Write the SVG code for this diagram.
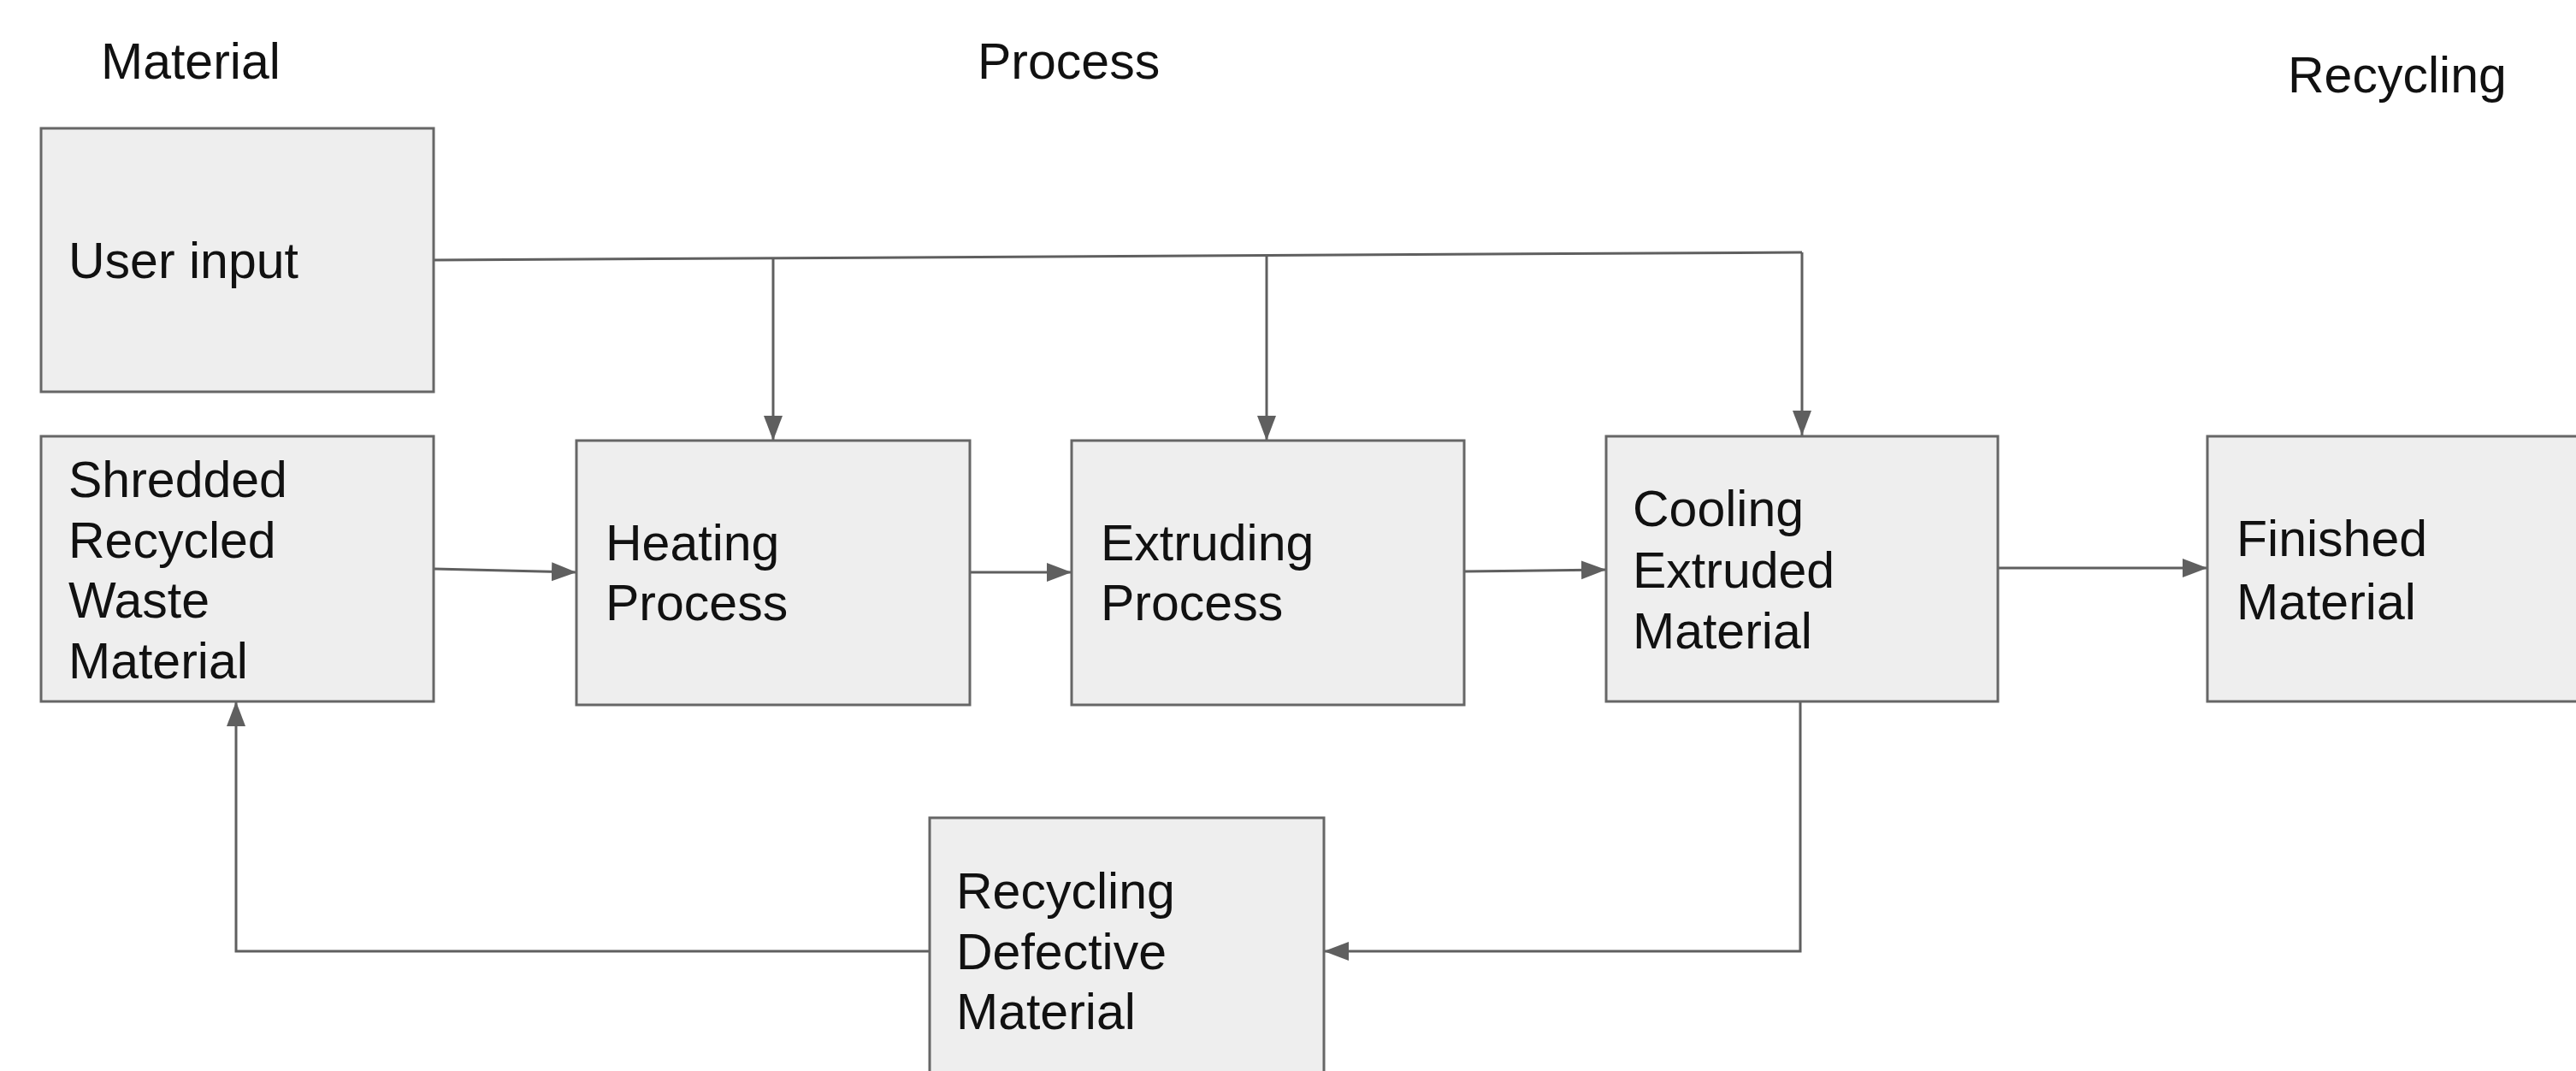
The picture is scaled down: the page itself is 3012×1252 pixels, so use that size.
<svg xmlns="http://www.w3.org/2000/svg" width="3012" height="1252" viewBox="0 0 3012 1252">
  <style>
    .box { fill: #eeeeee; stroke: #666666; stroke-width: 3; }
    .lbl { font-family: "Liberation Sans", Arial, sans-serif; font-size: 59px; fill: #111111; }
    .conn { fill: none; stroke: #5f5f5f; stroke-width: 3; }
  </style>
  <defs>
    <marker id="arrow" markerUnits="userSpaceOnUse" markerWidth="30" markerHeight="24" refX="29" refY="11" orient="auto">
      <path d="M0,0 L29,11 L0,22 z" fill="#5f5f5f"/>
    </marker>
  </defs>
  <rect width="3012" height="1252" fill="#ffffff"/>

  <!-- column headings -->
  <text class="lbl" x="118" y="92">Material</text>
  <text class="lbl" x="1143" y="92">Process</text>
  <text class="lbl" x="2675" y="108">Recycling</text>

  <!-- connectors -->
  <g id="connectors">
    <path class="conn" d="M507,304 L2107,295"/>
    <path class="conn" d="M904,302 L904,515" marker-end="url(#arrow)"/>
    <path class="conn" d="M1481,299 L1481,515" marker-end="url(#arrow)"/>
    <path class="conn" d="M2107,295 L2107,509" marker-end="url(#arrow)"/>
    <path class="conn" d="M507,665 L674,669" marker-end="url(#arrow)"/>
    <path class="conn" d="M1134,669 L1253,669" marker-end="url(#arrow)"/>
    <path class="conn" d="M1712,668 L1878,666" marker-end="url(#arrow)"/>
    <path class="conn" d="M2336,664 L2581,664" marker-end="url(#arrow)"/>
    <path class="conn" d="M2105,820 L2105,1112 L1548,1112" marker-end="url(#arrow)"/>
    <path class="conn" d="M1087,1112 L276,1112 L276,820" marker-end="url(#arrow)"/>
  </g>

  <g id="user-input">
    <rect class="box" x="48" y="150" width="459" height="308"/>
    <text class="lbl" x="80" y="325">User input</text>
  </g>

  <g id="shredded">
    <rect class="box" x="48" y="510" width="459" height="310"/>
    <text class="lbl" x="80" y="581">Shredded</text>
    <text class="lbl" x="80" y="652">Recycled</text>
    <text class="lbl" x="80" y="722">Waste</text>
    <text class="lbl" x="80" y="793">Material</text>
  </g>

  <g id="heating">
    <rect class="box" x="674" y="515" width="460" height="309"/>
    <text class="lbl" x="708" y="655">Heating</text>
    <text class="lbl" x="708" y="725">Process</text>
  </g>

  <g id="extruding">
    <rect class="box" x="1253" y="515" width="459" height="309"/>
    <text class="lbl" x="1287" y="655">Extruding</text>
    <text class="lbl" x="1287" y="725">Process</text>
  </g>

  <g id="cooling">
    <rect class="box" x="1878" y="510" width="458" height="310"/>
    <text class="lbl" x="1909" y="615">Cooling</text>
    <text class="lbl" x="1909" y="687">Extruded</text>
    <text class="lbl" x="1909" y="758">Material</text>
  </g>

  <g id="finished">
    <rect class="box" x="2581" y="510" width="460" height="310"/>
    <text class="lbl" x="2615" y="650">Finished</text>
    <text class="lbl" x="2615" y="724">Material</text>
  </g>

  <g id="recycling-defective">
    <rect class="box" x="1087" y="956" width="461" height="320"/>
    <text class="lbl" x="1118" y="1062">Recycling</text>
    <text class="lbl" x="1118" y="1133">Defective</text>
    <text class="lbl" x="1118" y="1203">Material</text>
  </g>
</svg>
